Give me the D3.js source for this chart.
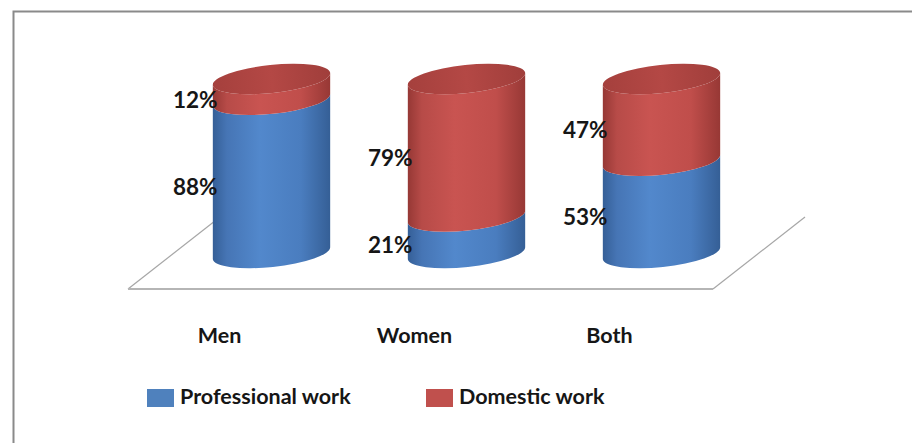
<!DOCTYPE html>
<html><head><meta charset="utf-8">
<script src="https://cdn.jsdelivr.net/npm/d3@7"></script>
<style>html,body{margin:0;padding:0;background:#fff;}svg{display:block;}</style>
</head><body>
<svg id="chart" width="912" height="443"></svg>
<script>
const categories = ["Men", "Women", "Both"];
const professional = [88, 21, 53];
const domestic = [12, 79, 47];
const seriesNames = ["Professional work", "Domestic work"];
const yTicks = [0, 100];

const W = 912, H = 443;
const svg = d3.select("#chart");
const FONT = "Lato, 'Open Sans', sans-serif";

// frame
svg.append("path").attr("d", `M13.5,${H} V11.5 H${W}`).attr("fill", "none")
  .attr("stroke", "#8a8a8a").attr("stroke-width", 2);

// 3D floor geometry
const front = {x0: 128, x1: 713, y: 289};
const depth = {dx: 92, dy: -72};
const x = d3.scaleBand().domain(categories).range([front.x0, front.x1]).paddingInner(0).paddingOuter(0);
const midShift = {dx: depth.dx / 2, dy: depth.dy / 2};

const floor = svg.append("g").attr("fill", "none");
floor.append("path").attr("d", `M${front.x0 + depth.dx},${front.y + depth.dy} L${front.x0},${front.y}`)
  .attr("stroke", "#a6a6a6").attr("stroke-width", 1.2);
floor.append("path").attr("d", `M${front.x1},${front.y} L${front.x1 + depth.dx},${front.y + depth.dy}`)
  .attr("stroke", "#a6a6a6").attr("stroke-width", 1.2);
floor.append("path").attr("d", `M${front.x0},${front.y} H${front.x1}`)
  .attr("stroke", "#b5b5b5").attr("stroke-width", 2.2);

// y scale (cylinder centre line)
const y = d3.scaleLinear().domain(d3.extent(yTicks)).range([253, 79]);
const rx = 59, ry = 14, rot = -6;
const th = rot * Math.PI / 180;
function pt(cx, cy, t) {
  return [cx + rx * Math.cos(t) * Math.cos(th) - ry * Math.sin(t) * Math.sin(th),
          cy + rx * Math.cos(t) * Math.sin(th) + ry * Math.sin(t) * Math.cos(th)];
}
function segPath(cx, yb, yt) {
  const lt = pt(cx, yt, Math.PI), rt = pt(cx, yt, 0);
  const lb = pt(cx, yb, Math.PI), rb = pt(cx, yb, 0);
  return `M${lt} L${lb} A${rx},${ry} ${rot} 0 0 ${rb} L${rt} A${rx},${ry} ${rot} 0 1 ${lt} Z`;
}

const defs = svg.append("defs");
function grad(id, stops) {
  const g = defs.append("linearGradient").attr("id", id).attr("x1", 0).attr("x2", 1).attr("y1", 0).attr("y2", 0);
  stops.forEach(([o, c]) => g.append("stop").attr("offset", o).attr("stop-color", c));
}
grad("gBlue", [[0, "#355f97"], [0.12, "#4675b5"], [0.4, "#5288cc"], [0.75, "#4a7dbf"], [1, "#355f96"]]);
grad("gRed", [[0, "#963835"], [0.12, "#b74b48"], [0.4, "#c95451"], [0.75, "#c04e4b"], [1, "#973835"]]);
grad("gTop", [[0, "#a5403d"], [0.5, "#b44845"], [1, "#a03e3b"]]);

const colors = {pro: "url(#gBlue)", dom: "url(#gRed)"};
const legendColors = ["#4f81bd", "#c0504d"];

const cyl = svg.append("g");
categories.forEach((c, i) => {
  const cx = x(c) + x.bandwidth() / 2 + midShift.dx;
  const p = professional[i], d = domestic[i];
  cyl.append("path").attr("d", segPath(cx, y(0), y(p))).attr("fill", colors.pro);
  cyl.append("path").attr("d", segPath(cx, y(p), y(p + d))).attr("fill", colors.dom);
  cyl.append("ellipse").attr("cx", cx).attr("cy", y(p + d)).attr("rx", rx).attr("ry", ry)
    .attr("transform", `rotate(${rot},${cx},${y(p + d)})`).attr("fill", "url(#gTop)");

  // data labels
  const lx = cx - rx + 5;
  [[0, p], [p, p + d]].forEach(([a, b]) => {
    svg.append("text").attr("x", lx).attr("y", (y(a) + y(b)) / 2 + ry * 0.9)
      .attr("text-anchor", "end").attr("dominant-baseline", "middle")
      .attr("font-family", FONT).attr("font-weight", 700).attr("font-size", 22.5)
      .attr("fill", "#161616").text((b - a) + "%");
  });

  // category label
  svg.append("text").attr("x", x(c) + x.bandwidth() / 2 - 6).attr("y", 337)
    .attr("text-anchor", "middle").attr("dominant-baseline", "middle")
    .attr("font-family", FONT).attr("font-weight", 700).attr("font-size", 21.5)
    .attr("fill", "#161616").text(c);
});

// legend
const legendX = [147, 426];
seriesNames.forEach((s, i) => {
  svg.append("rect").attr("x", legendX[i]).attr("y", 389).attr("width", 27).attr("height", 18)
    .attr("fill", legendColors[i]);
  svg.append("text").attr("x", legendX[i] + 33).attr("y", 398).attr("dominant-baseline", "middle")
    .attr("font-family", FONT).attr("font-weight", 700).attr("font-size", 21.5)
    .attr("fill", "#161616").text(s);
});
</script>
</body></html>
